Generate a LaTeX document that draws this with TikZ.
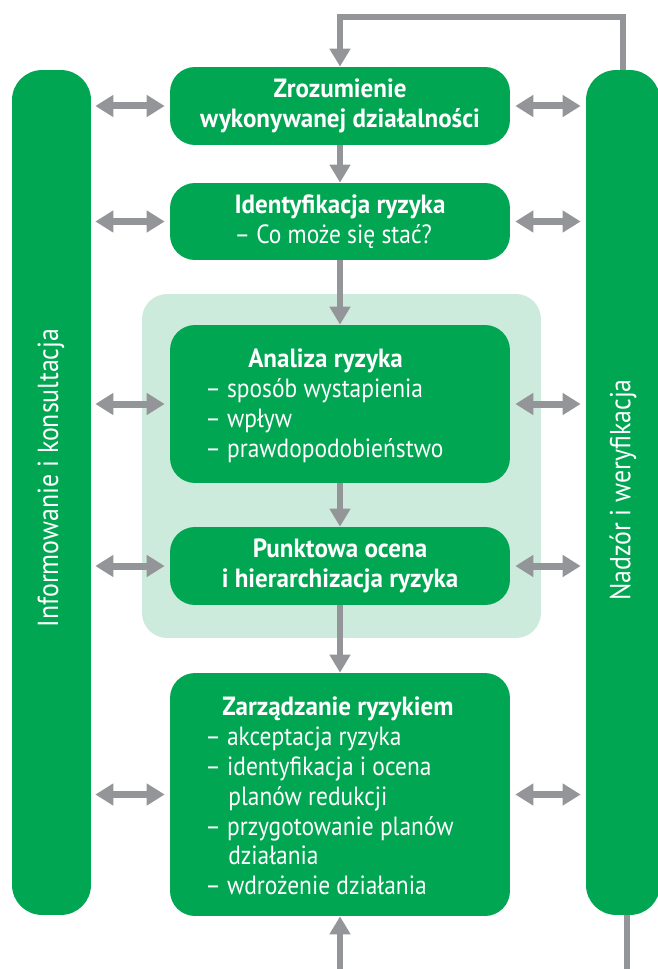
\documentclass[tikz,border=0pt]{standalone}
\usepackage{fontspec}
\setmainfont{PT Sans}[FakeStretch=0.89,BoldFeatures={FakeStretch=0.95}]
\usetikzlibrary{arrows.meta,positioning}
\definecolor{pgreen}{RGB}{0,166,81}
\definecolor{plight}{RGB}{205,235,220}
\definecolor{pgray}{RGB}{147,149,152}
\newcommand\boxfont{\fontsize{15}{17}\selectfont}
\newcommand\barfont{\fontsize{16.5}{19}\selectfont}

\begin{document}
\begin{tikzpicture}[x=0.02cm,y=-0.02cm]
  \tikzset{ box/.style={fill=pgreen,rounded corners=0.5cm,minimum width=6.8cm,inner sep=0pt,text=white,font=\boxfont,align=center},
    bar/.style={fill=pgreen,rounded corners=0.6cm,inner sep=0pt,minimum height=16.9cm},
    txt/.style={text=white,font=\boxfont,align=left,inner sep=0pt},
    flow/.style={pgray,line width=0.12cm,-{Triangle[width=0.4cm,length=0.36cm]}},
    both/.style={pgray,line width=0.14cm,{Triangle[width=0.42cm,length=0.36cm]}-{Triangle[width=0.42cm,length=0.36cm]},shorten <=0.08cm,shorten >=0.1cm},
  }
  \useasboundingbox (0,0) rectangle (657,969);

  % the light area behind the two middle steps
  \node[fill=plight,rounded corners=0.5cm,minimum width=7.98cm,minimum height=6.88cm] (zone) at (341.5,466) {};

  % the side bars
  \node[bar,minimum width=1.58cm] (lbar) at (51.5,492.5) {};
  \node[bar,minimum width=1.48cm] (rbar) at (623,492.5) {};
  \node[txt,rotate=90,font=\barfont] (inform) at (51,478) {Informowanie i konsultacja};
  \node[txt,rotate=90,font=\barfont] (nadzor) at (623,490) {Nadzór i weryfikacja};

  % the steps
  \node[box,minimum height=1.56cm] (zroz) at (340,106) {\textbf{Zrozumienie}\\\textbf{wykonywanej działalności}};
  \node[box,minimum height=1.54cm,align=left] (ident) at (340,221.5) {\textbf{Identyfikacja ryzyka}\\-- Co może się stać?};
  \node[box,minimum height=3.16cm] (anal) at (340,404) {};
  \node[txt,anchor=west] (analtxt) at (205,406) {\hspace*{0.86cm}\textbf{Analiza ryzyka}\\-- sposób wystapienia\\-- wpływ\\-- prawdopodobieństwo};
  \node[box,minimum height=1.56cm] (punkt) at (340,566) {\textbf{Punktowa ocena}\\\textbf{i hierarchizacja ryzyka}};
  \node[box,minimum height=4.86cm] (zarz) at (340,794.5) {};
  \node[txt,anchor=west] (zarztxt) at (205,796) {\hspace*{0.34cm}\textbf{Zarządzanie ryzykiem}\\-- akceptacja ryzyka\\-- identyfikacja i ocena\\\hspace*{0.46cm}planów redukcji\\-- przygotowanie planów\\\hspace*{0.46cm}działania\\-- wdrożenie działania};

  % the flow between the steps
  \draw[flow] (zroz) -- (ident);
  \draw[flow] (ident) -- (anal);
  \draw[flow] (anal) -- (punkt);
  \draw[flow] (punkt) -- (zarz);

  \coordinate (loop) at (340,17);
  \draw[flow] (rbar.north) |- (loop) -- (zroz.north);
  \coordinate (inlet) at (340,975);
  \draw[flow] (inlet) -- (zarz.south);
  \coordinate (outlet) at (627,975);
  \draw[pgray,line width=0.12cm] (outlet |- rbar.south) -- (outlet);

  % links to the side bars
  \foreach \s in {zroz,ident,anal,punkt,zarz}{
    \draw[both] (lbar.east |- \s.west) -- (\s.west);
    \draw[both,shorten <=0.1cm] (\s.east) -- (rbar.west |- \s.east);
  }
\end{tikzpicture}
\end{document}
